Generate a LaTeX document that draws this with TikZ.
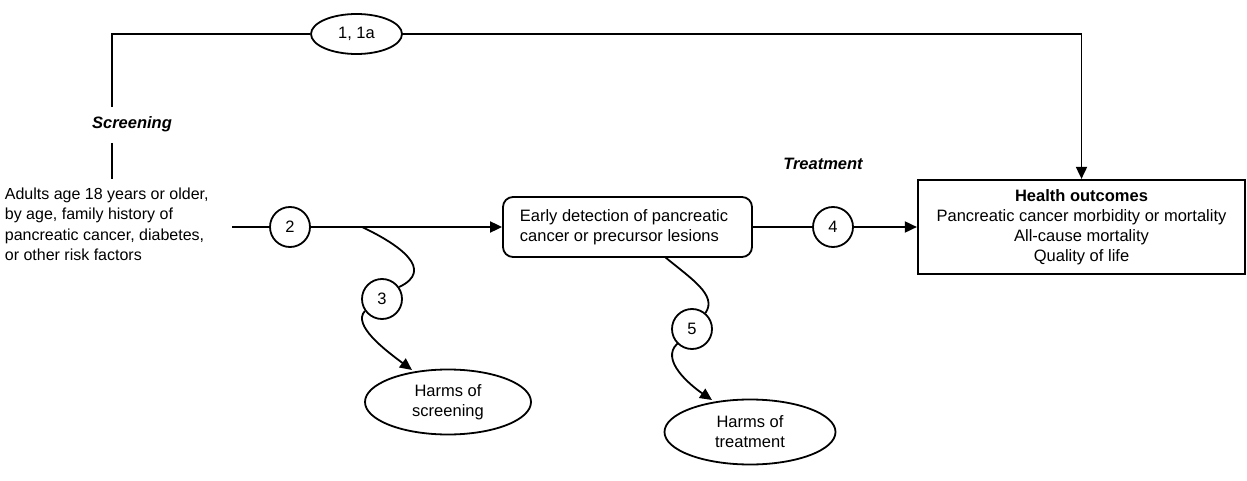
\documentclass[tikz,border=0pt]{standalone}
\usepackage{fontspec}
\setmainfont{Liberation Sans}
\usetikzlibrary{arrows.meta,shapes.geometric}
\begin{document}
\begin{tikzpicture}[x=1pt,y=-1pt,
  line width=1.8pt,
  every node/.style={font=\fontsize{16.5}{20}\selectfont},
  tip/.style={-{Triangle[length=12pt,width=11pt]}},
  kq/.style={draw,circle,minimum size=40pt,inner sep=0pt},
  oval/.style={draw,ellipse,inner sep=0pt},
  lbl/.style={font=\fontsize{16.5}{20}\selectfont\bfseries\itshape}]
\useasboundingbox (0,0) rectangle (1247,481);
% nodes
\node[oval,minimum width=91pt,minimum height=40pt] (k1) at (356.5,34) {1, 1a};
\node[lbl] (scr) at (132,124) {Screening};
\node[lbl] (trt) at (823,164) {Treatment};
\node[align=left,anchor=north west,inner sep=0pt,font=\fontsize{16}{20.3}\selectfont] (pop) at (4,187) {Adults age 18 years or older,\\by age, family history of\\pancreatic cancer, diabetes,\\or other risk factors};
\coordinate (ps) at (232,227);
\coordinate (tl) at (112,34);
\coordinate (vs) at (112,107);
\coordinate (ve) at (112,143);
\coordinate (vb) at (112,179);
\node[kq] (k2) at (290,227) {2};
\node[draw,rounded corners=10pt,minimum width=249pt,minimum height=60pt,inner sep=0pt] (det) at (627.5,227) {};
\node[align=left,anchor=west,inner sep=0pt] (dett) at (519,227) {Early detection of pancreatic\\cancer or precursor lesions};
\node[kq] (k4) at (833,227) {4};
\node[draw,line width=2.2pt,minimum width=327pt,minimum height=94pt,inner sep=0pt,align=center] (ho) at (1081.5,227) {\textbf{Health outcomes}\\Pancreatic cancer morbidity or mortality\\All-cause mortality\\Quality of life};
\coordinate (hotop) at (1081.5,34);
\coordinate (b3) at (362,227);
\node[kq] (k3) at (382,299) {3};
\node[oval,minimum width=166pt,minimum height=65pt,align=center] (hs) at (448,402) {Harms of\\screening};
\node[kq] (k5) at (692,329) {5};
\node[oval,minimum width=171pt,minimum height=65pt,align=center] (ht) at (750,432) {Harms of\\treatment};
\coordinate (b5) at (665,257);
% connectors
\draw (vs) -- (tl) -- (k1.west);
\draw[tip] (k1.east) -- (hotop) -- (ho.north);
\draw (ve) -- (vb);
\draw (ps) -- (k2.west);
\draw[tip] (k2.east) -- (det.west);
\draw (det.east) -- (k4.west);
\draw[tip] (k4.east) -- (ho.west);
\draw (b3) .. controls (400,245) and (435,270) .. (k3.35);
\draw[tip] (k3.215) .. controls (352,325) and (385,350) .. (412,370);
\draw (b5) .. controls (690,278) and (718,295) .. (k5.50);
\draw[tip] (k5.225) .. controls (660,360) and (690,385) .. (712,400);
\end{tikzpicture}
\end{document}
